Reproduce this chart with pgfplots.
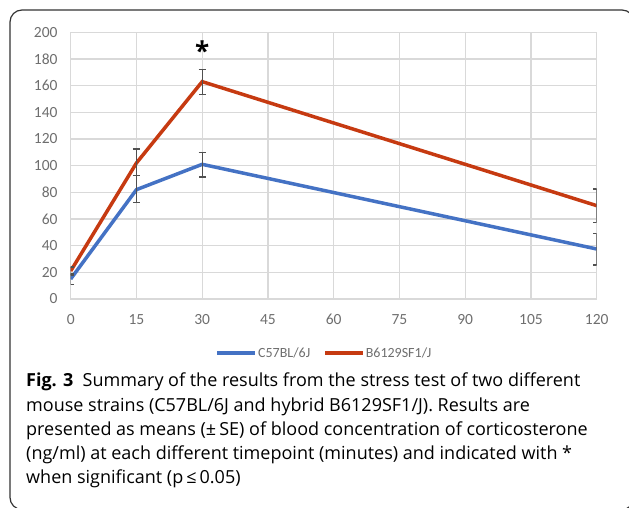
\documentclass[border=0pt]{standalone}
\usepackage{pgfplots}
\pgfplotsset{compat=1.18}
\usepackage{fontspec}
\setmainfont{Open Sans}
\newfontfamily\calibri{Carlito}
\definecolor{bl}{RGB}{68,114,196}
\definecolor{rd}{RGB}{198,58,17}
\definecolor{gridc}{RGB}{217,217,217}
\definecolor{tickc}{RGB}{110,110,110}
\definecolor{errc}{RGB}{80,80,80}
\begin{document}
\begin{tikzpicture}[x=1pt,y=1pt]
\path[use as bounding box] (0,0) rectangle (629,507);
\draw[line width=1.2pt, color=black!80, rounded corners=12pt] (10,-2.5) -- (10,497) -- (634,497) -- (634,-2.5) -- cycle;
\begin{axis}[
  at={(70.7pt,208pt)}, anchor=south west,
  scale only axis, width=526pt, height=266.7pt,
  xmin=0, xmax=120, ymin=0, ymax=200,
  xtick={0,15,...,120}, ytick={0,20,...,200},
  grid=major, grid style={gridc, line width=1.2pt},
  axis line style={draw=gridc, line width=1.2pt},
  major tick length=0pt,
  ticklabel style={font=\calibri\fontsize{15.5}{18}\selectfont, color=tickc},
  yticklabel style={inner sep=0pt, xshift=-13pt},
  xticklabel style={inner sep=0pt, yshift=-15pt},
  /pgf/number format/assume math mode=true,
  legend style={at={(0.4816,-0.2025)}, anchor=center, draw=none, fill=none,
    font=\calibri\fontsize{14}{15}\selectfont, text=tickc,
    legend columns=2, inner sep=0pt,
    /tikz/every even column/.append style={column sep=12pt},
    nodes={inner sep=1pt}},
  legend image code/.code={\draw[#1, line width=3.5pt] (0pt,0pt) -- (38pt,0pt);},
  error bars/error bar style={errc, line width=1.1pt},
  error bars/error mark options={errc, rotate=90, mark size=3.5pt, line width=1.1pt},
]
\addplot[bl, line width=3.5pt, mark=none,
  error bars/.cd, y dir=both, y explicit]
  coordinates {
    (0,15) +- (0,4)
    (15,82) += (0,10.5) -= (0,9.5)
    (30,101) += (0,9) -= (0,9.5)
    (120,37.5) += (0,11.5) -= (0,12)
  };
\addlegendentry{C57BL/6J}
\addplot[rd, line width=3.5pt, mark=none,
  error bars/.cd, y dir=both, y explicit]
  coordinates {
    (0,21) +- (0,3)
    (15,102) += (0,10.5) -= (0,9.5)
    (30,163) += (0,9) -= (0,9.5)
    (120,70) += (0,12.5) -= (0,12.5)
  };
\addlegendentry{B6129SF1/J}
\node[font=\bfseries\fontsize{26}{26}\selectfont, inner sep=0pt] at (axis cs:30,186) {*};
\end{axis}
\node[anchor=base west, inner sep=0pt, align=left, font=\fontsize{18}{24.3}\selectfont] at (26,23.1)
{\textbf{Fig. 3}\ \ Summary of the results from the stress test of two different\\
mouse strains (C57BL/6J and hybrid B6129SF1/J). Results are\\
presented as means (±\,SE) of blood concentration of corticosterone\\
(ng/ml) at each different timepoint (minutes) and indicated with *\\
when significant (p\,≤\,0.05)};
\end{tikzpicture}
\end{document}
